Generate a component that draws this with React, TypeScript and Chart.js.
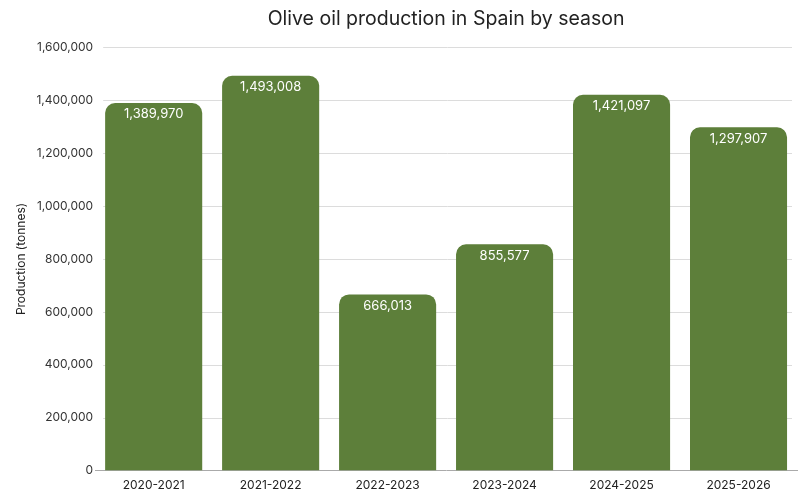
import React, { useEffect, useRef } from "react";
import { Chart, registerables } from "chart.js";

Chart.register(...registerables);

const seasons = ["2020-2021", "2021-2022", "2022-2023", "2023-2024", "2024-2025", "2025-2026"];
const production = [1389970, 1493008, 666013, 855577, 1421097, 1297907];
const yTicks = [0, 200000, 400000, 600000, 800000, 1000000, 1200000, 1400000, 1600000];
const chartTitle = "Olive oil production in Spain by season";
const yTitle = "Production (tonnes)";

const fmt = (v: number) => v.toLocaleString("en-US");

const gridLines = {
  id: "gridLines",
  beforeDatasetsDraw(chart: any) {
    const ctx = chart.ctx;
    const y = chart.scales.y;
    const area = chart.chartArea;
    ctx.save();
    ctx.strokeStyle = "#dcdcdc";
    ctx.lineWidth = 1;
    yTicks.forEach((t) => {
      if (t === 0) return;
      const py = Math.round(y.getPixelForValue(t)) + 0.5;
      ctx.beginPath();
      ctx.moveTo(area.left + 8, py);
      ctx.lineTo(area.right - 5, py);
      ctx.stroke();
    });
    ctx.restore();
  },
};

const valueLabels = {
  id: "valueLabels",
  afterDatasetsDraw(chart: any) {
    const ctx = chart.ctx;
    const meta = chart.getDatasetMeta(0);
    ctx.save();
    ctx.fillStyle = "#ffffff";
    ctx.font = "13px Inter";
    ctx.textAlign = "center";
    ctx.textBaseline = "top";
    meta.data.forEach((bar: any, i: number) => {
      ctx.fillText(fmt(production[i]), bar.x, bar.y + 5);
    });
    ctx.restore();
  },
};

export default function App() {
  const ref = useRef<HTMLCanvasElement>(null);
  useEffect(() => {
    document.body.style.margin = "0";
    const chart = new Chart(ref.current!, {
      type: "bar",
      data: {
        labels: seasons,
        datasets: [
          {
            data: production,
            backgroundColor: "#5d7f3a",
            borderRadius: { topLeft: 10, topRight: 10, bottomLeft: 0, bottomRight: 0 },
            borderSkipped: false,
            categoryPercentage: 1,
            barPercentage: 0.83,
          },
        ],
      },
      options: {
        responsive: false,
        animation: false,
        layout: { padding: { left: 14, right: 3, top: 4, bottom: 7 } },
        plugins: {
          legend: { display: false },
          tooltip: { enabled: false },
          title: {
            display: true,
            fullSize: false,
            text: chartTitle,
            color: "#222222",
            font: { family: "Inter", size: 19.5, weight: "normal" },
            padding: { top: 3, bottom: 17 },
          },
        },
        scales: {
          x: {
            grid: { display: false },
            border: { display: true, color: "#aaaaaa" },
            ticks: { color: "#222222", font: { family: "Inter", size: 12 }, padding: 0 },
          },
          y: {
            min: 0,
            max: 1600000,
            afterBuildTicks: (axis: any) => {
              axis.ticks = yTicks.map((v) => ({ value: v }));
            },
            ticks: {
              color: "#333333",
              font: { family: "Inter", size: 12 },
              padding: 2,
              callback: (v: any) => fmt(Number(v)),
            },
            grid: { display: false, drawTicks: false },
            border: { display: false },
            title: {
              display: true,
              text: yTitle,
              color: "#222222",
              font: { family: "Inter", size: 12 },
              padding: { top: 0, bottom: 6 },
            },
          },
        },
      },
      plugins: [gridLines, valueLabels],
    });
    return () => chart.destroy();
  }, []);
  return (
    <div style={{ width: 800, height: 500 }}>
      <canvas ref={ref} width={800} height={500} />
    </div>
  );
}
